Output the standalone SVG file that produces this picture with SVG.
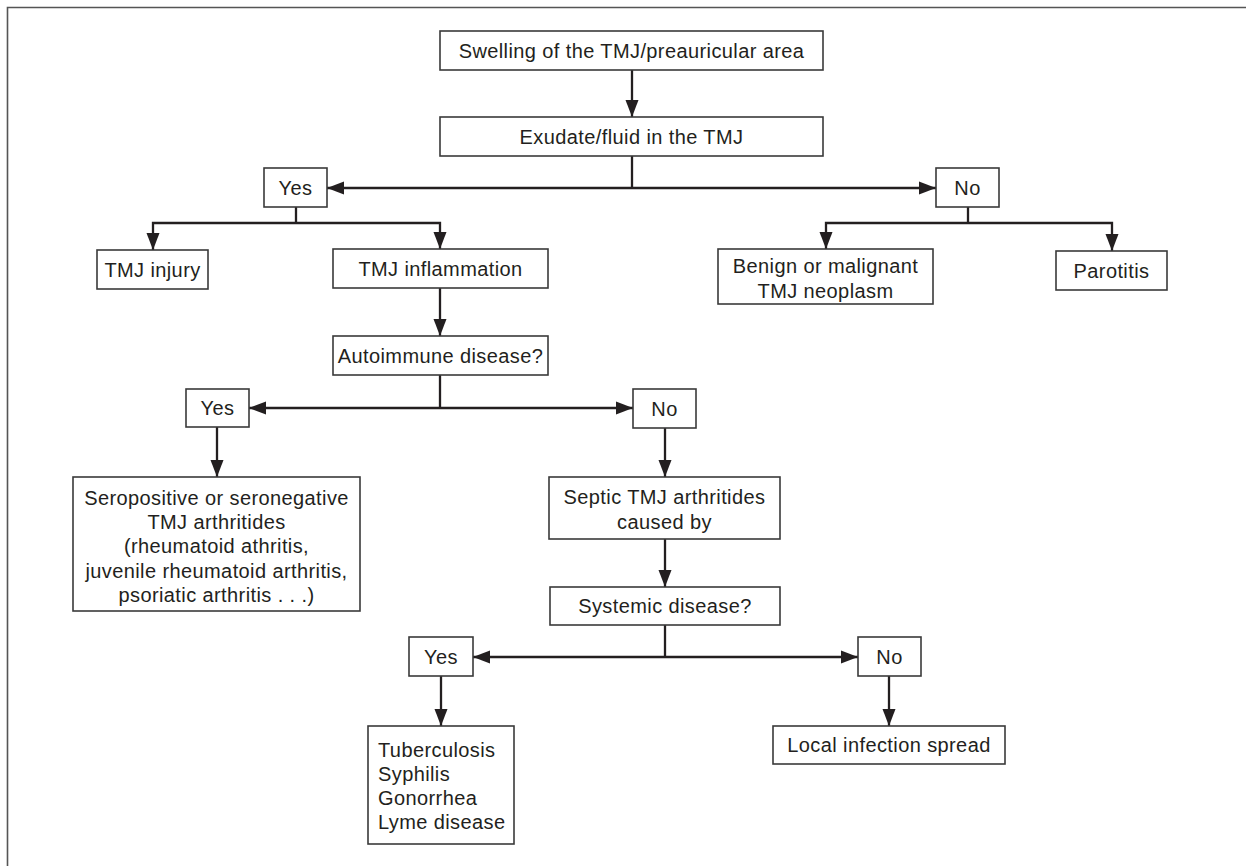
<svg xmlns="http://www.w3.org/2000/svg" width="1246" height="866" viewBox="0 0 1246 866">
<defs>
<style>
.box{fill:#fff;stroke:#3a3a3a;stroke-width:1.6}
.t{font-family:"Liberation Sans",Arial,Helvetica,sans-serif;font-size:20px;letter-spacing:0.4px;fill:#231f20;text-anchor:middle}
.tl{text-anchor:start}
.c{fill:none;stroke:#231f20;stroke-width:2.3}
.a{marker-end:url(#arr)}
.frame{fill:none;stroke:#555;stroke-width:1.6}
</style>
<marker id="arr" markerUnits="userSpaceOnUse" markerWidth="18" markerHeight="14" refX="17" refY="7" orient="auto">
<path d="M0,0.5 L17,7 L0,13.5 z" fill="#231f20"/>
</marker>
</defs>
<rect width="1246" height="866" fill="#fff"/>
<path class="frame" d="M7.5,866 V7.5 H1246"/>

<g id="connectors">
<line class="c a" x1="632" y1="70" x2="632" y2="117"/>
<line class="c" x1="632" y1="156" x2="632" y2="188"/>
<line class="c a" x1="632" y1="188" x2="327" y2="188"/>
<line class="c a" x1="632" y1="188" x2="936" y2="188"/>
<line class="c" x1="296" y1="207" x2="296" y2="223"/>
<polyline class="c a" points="296,223 153,223 153,250"/>
<polyline class="c a" points="296,223 440,223 440,249"/>
<line class="c" x1="968" y1="207" x2="968" y2="223"/>
<polyline class="c a" points="968,223 826,223 826,249"/>
<polyline class="c a" points="968,223 1112,223 1112,251"/>
<line class="c a" x1="440" y1="288" x2="440" y2="336"/>
<line class="c" x1="440" y1="375" x2="440" y2="408"/>
<line class="c a" x1="440" y1="408" x2="249" y2="408"/>
<line class="c a" x1="440" y1="408" x2="633" y2="408"/>
<line class="c a" x1="217" y1="427" x2="217" y2="477"/>
<line class="c a" x1="665" y1="428" x2="665" y2="477"/>
<line class="c a" x1="665" y1="539" x2="665" y2="587"/>
<line class="c" x1="665" y1="625" x2="665" y2="657"/>
<line class="c a" x1="665" y1="657" x2="473" y2="657"/>
<line class="c a" x1="665" y1="657" x2="858" y2="657"/>
<line class="c a" x1="441" y1="676" x2="441" y2="726"/>
<line class="c a" x1="889" y1="676" x2="889" y2="726"/>
</g>

<g id="n-swelling"><rect class="box" x="440" y="31" width="383" height="39"/><text class="t" x="631.5" y="57.5">Swelling of the TMJ/preauricular area</text></g>
<g id="n-exudate"><rect class="box" x="440" y="117" width="383" height="39"/><text class="t" x="631.5" y="143.5">Exudate/fluid in the TMJ</text></g>
<g id="n-yes1"><rect class="box" x="264" y="168" width="63" height="39"/><text class="t" x="295.5" y="194.5">Yes</text></g>
<g id="n-no1"><rect class="box" x="936" y="168" width="63" height="39"/><text class="t" x="967.5" y="194.5">No</text></g>
<g id="n-injury"><rect class="box" x="97" y="250" width="111" height="39"/><text class="t" x="152.5" y="276.5">TMJ injury</text></g>
<g id="n-inflammation"><rect class="box" x="333" y="249" width="215" height="39"/><text class="t" x="440.5" y="275.5">TMJ inflammation</text></g>
<g id="n-neoplasm"><rect class="box" x="718" y="249" width="215" height="55"/><text class="t" x="825.5" y="273">Benign or malignant</text><text class="t" x="825.5" y="298">TMJ neoplasm</text></g>
<g id="n-parotitis"><rect class="box" x="1056" y="251" width="111" height="39"/><text class="t" x="1111.5" y="277.5">Parotitis</text></g>
<g id="n-autoimmune"><rect class="box" x="333" y="336" width="215" height="39"/><text class="t" x="440.5" y="362.5">Autoimmune disease?</text></g>
<g id="n-yes2"><rect class="box" x="186" y="389" width="63" height="38"/><text class="t" x="217.5" y="415">Yes</text></g>
<g id="n-no2"><rect class="box" x="633" y="389" width="63" height="39"/><text class="t" x="664.5" y="415.5">No</text></g>
<g id="n-seropositive"><rect class="box" x="73" y="477" width="287" height="134"/>
<text class="t" x="216.5" y="505">Seropositive or seronegative</text>
<text class="t" x="216.5" y="529">TMJ arthritides</text>
<text class="t" x="216.5" y="553">(rheumatoid athritis,</text>
<text class="t" x="216.5" y="578">juvenile rheumatoid arthritis,</text>
<text class="t" x="216.5" y="602">psoriatic arthritis . . .)</text></g>
<g id="n-septic"><rect class="box" x="549" y="477" width="231" height="62"/>
<text class="t" x="664.5" y="504">Septic TMJ arthritides</text>
<text class="t" x="664.5" y="529">caused by</text></g>
<g id="n-systemic"><rect class="box" x="550" y="587" width="230" height="38"/><text class="t" x="665" y="613">Systemic disease?</text></g>
<g id="n-yes3"><rect class="box" x="409" y="637" width="64" height="39"/><text class="t" x="441" y="663.5">Yes</text></g>
<g id="n-no3"><rect class="box" x="858" y="637" width="63" height="39"/><text class="t" x="889.5" y="663.5">No</text></g>
<g id="n-systemic-causes"><rect class="box" x="368" y="726" width="146" height="118"/>
<text class="t tl" x="378" y="757">Tuberculosis</text>
<text class="t tl" x="378" y="781">Syphilis</text>
<text class="t tl" x="378" y="805">Gonorrhea</text>
<text class="t tl" x="378" y="829">Lyme disease</text></g>
<g id="n-local"><rect class="box" x="773" y="726" width="232" height="38"/><text class="t" x="889" y="752">Local infection spread</text></g>
</svg>
